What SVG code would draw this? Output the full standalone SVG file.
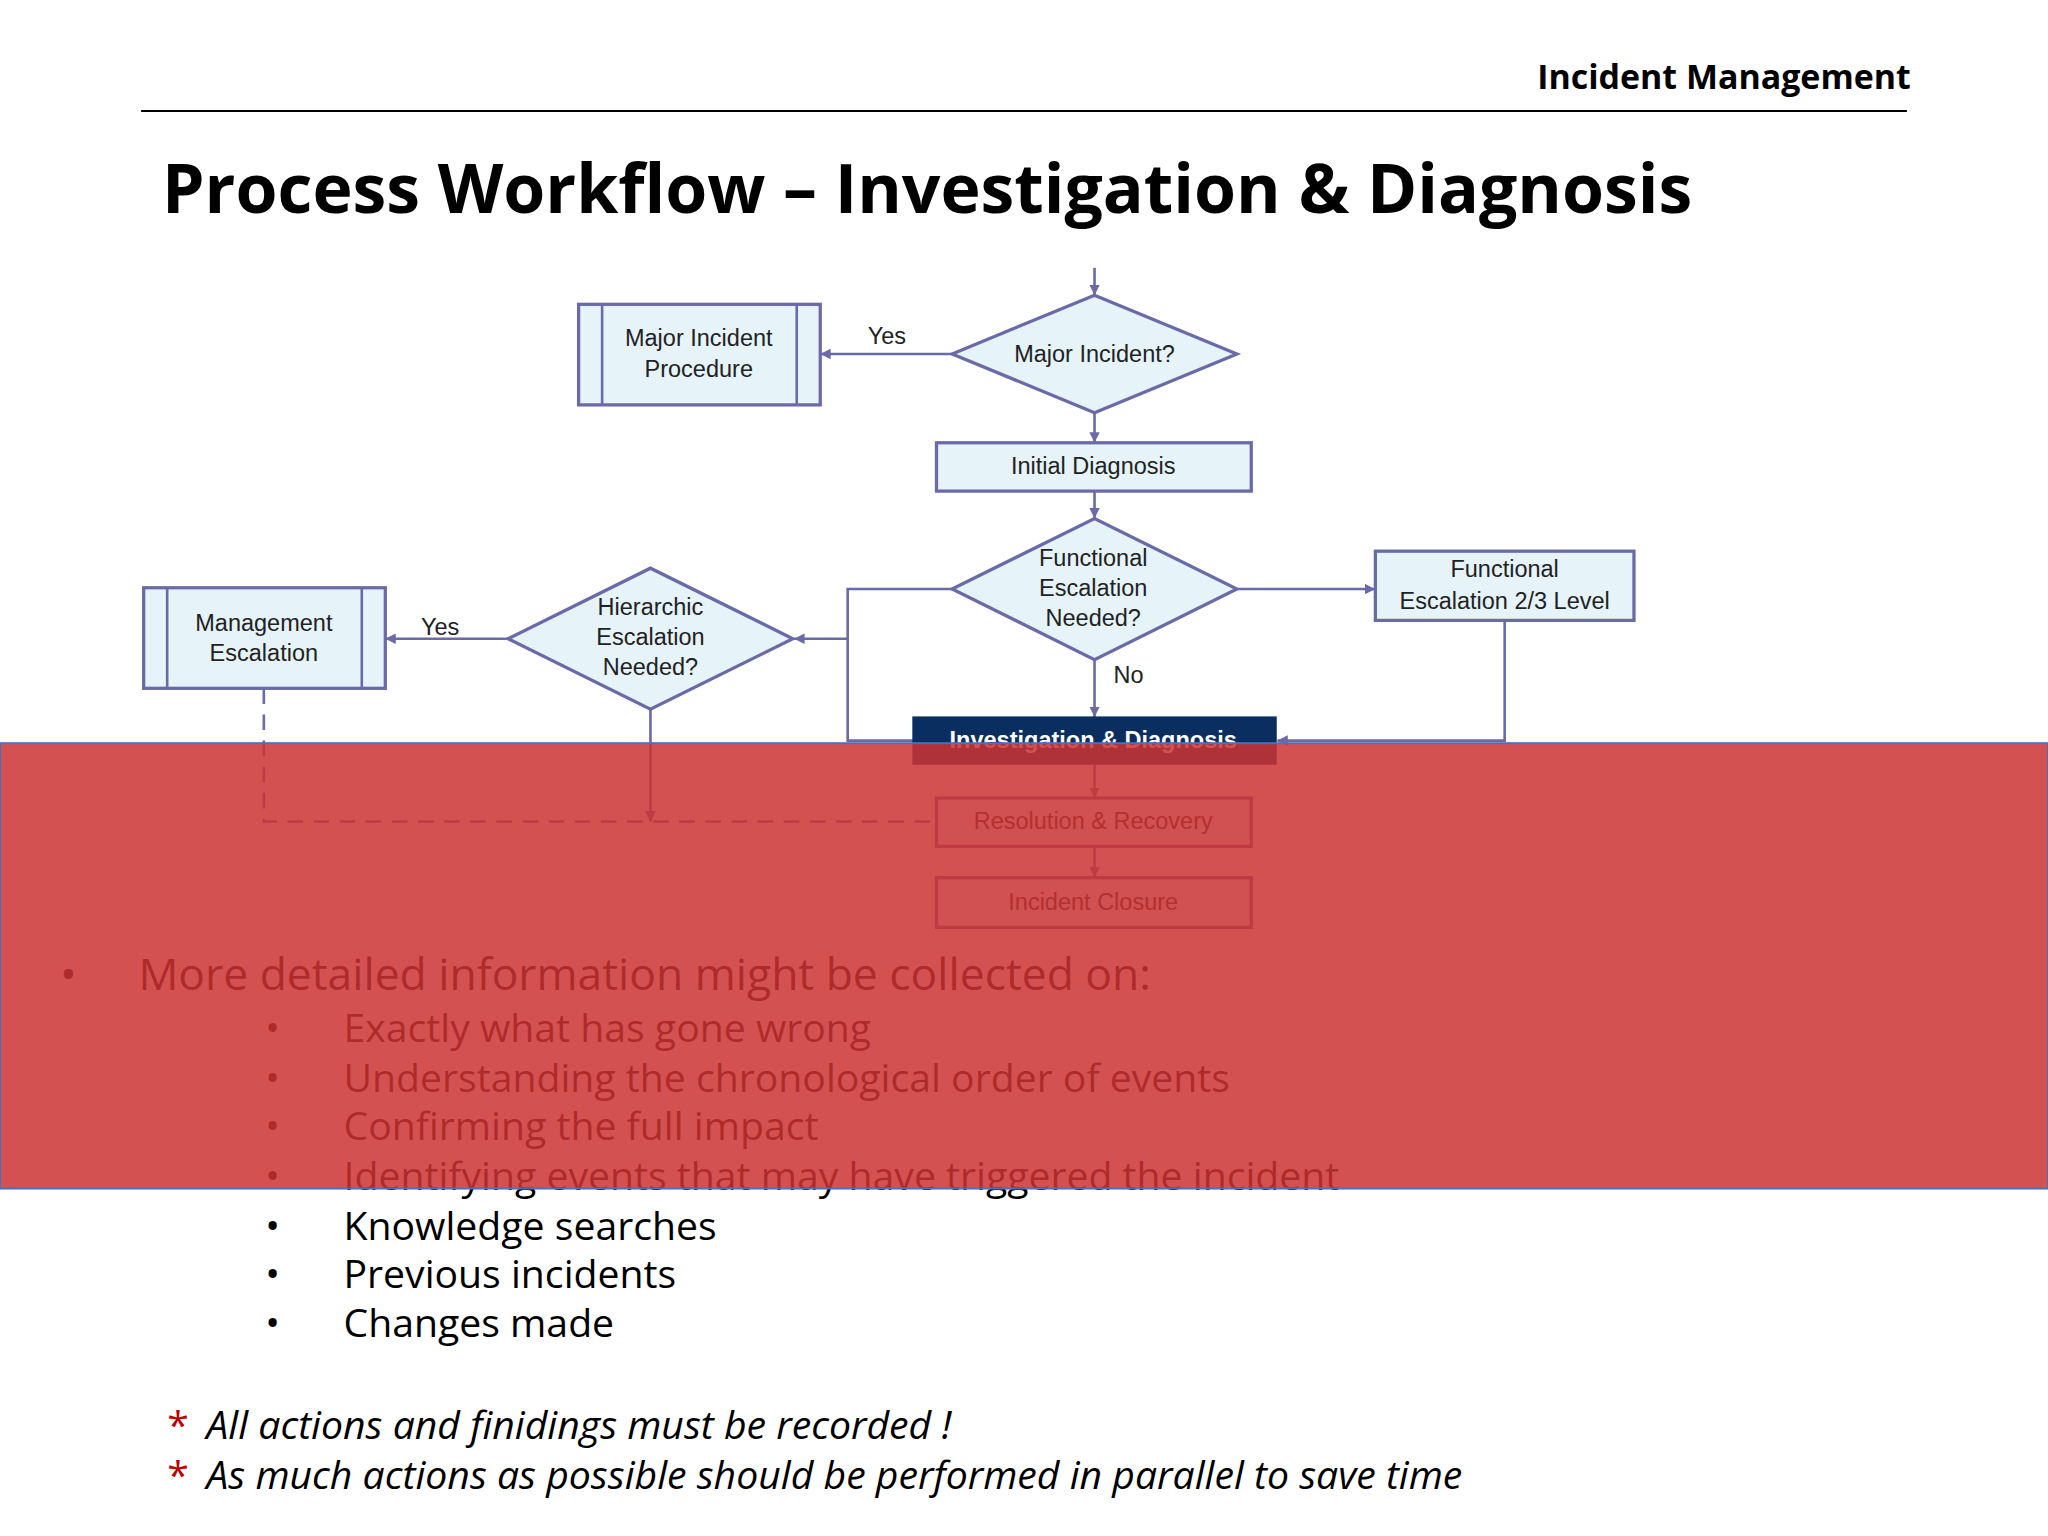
<svg xmlns="http://www.w3.org/2000/svg" width="2048" height="1536" viewBox="0 0 2048 1536">
<defs>
<marker id="ar" viewBox="0 0 10 10" refX="10" refY="5" markerWidth="8" markerHeight="8" markerUnits="userSpaceOnUse" orient="auto"><path d="M0,0L10,5L0,10z" fill="#6a6aa8"/></marker>
<style>
.n{fill:#e6f4fa;stroke:#6a6aa8;stroke-width:2.5}
.t{font-family:"Liberation Sans",Arial,sans-serif;font-size:18px;fill:#222;text-anchor:middle}
.c{fill:none;stroke:#6a6aa8;stroke-width:2}
.b{font-family:"Open Sans","Liberation Sans",sans-serif;fill:#000}
</style>
</defs>
<rect width="2048" height="1536" fill="#fff"/>
<g transform="scale(1.30612)">
<text x="1463" y="68" class="b" font-size="26" font-weight="bold" text-anchor="end">Incident Management</text>
<line x1="108" y1="85" x2="1460" y2="85" stroke="#000" stroke-width="1.5"/>
<text x="124" y="163" class="b" font-size="52" font-weight="bold">Process Workflow – Investigation &amp; Diagnosis</text>
<g id="connectors">
<path class="c" d="M838,205V226" marker-end="url(#ar)"/>
<path class="c" d="M729,271H628" marker-end="url(#ar)"/>
<path class="c" d="M838,316V339" marker-end="url(#ar)"/>
<path class="c" d="M838,376V397" marker-end="url(#ar)"/>
<path class="c" d="M947,451H1053" marker-end="url(#ar)"/>
<path class="c" d="M1152,475V567H978" marker-end="url(#ar)"/>
<path class="c" d="M729,451H649V567H699"/>
<path class="c" d="M649,489H608" marker-end="url(#ar)"/>
<path class="c" d="M389,489H295" marker-end="url(#ar)"/>
<path class="c" d="M838,505V549" marker-end="url(#ar)"/>
<path class="c" d="M498,543V629" marker-end="url(#ar)"/>
<path class="c" d="M202,527V629H717" stroke-dasharray="12,8"/>
<path class="c" d="M838,585V611" marker-end="url(#ar)"/>
<path class="c" d="M838,648V672" marker-end="url(#ar)"/>
<text x="679" y="263" class="t">Yes</text>
<text x="337" y="486" class="t">Yes</text>
<text x="864" y="523" class="t">No</text>
</g>
<g id="major"><path class="n" d="M729,271L838,226L947,271L838,316z"/><text x="838" y="277" class="t">Major Incident?</text></g>
<g id="mip"><rect class="n" x="443" y="233" width="185" height="77"/><path class="c" d="M461,233V310M610,233V310"/><text x="535" y="265" class="t">Major Incident</text><text x="535" y="289" class="t">Procedure</text></g>
<g id="initial"><rect class="n" x="717" y="339" width="241" height="37"/><text x="837" y="363" class="t">Initial Diagnosis</text></g>
<g id="func"><path class="n" d="M729,451L838,397L947,451L838,505z"/><text x="837" y="433" class="t">Functional</text><text x="837" y="456" class="t">Escalation</text><text x="837" y="479" class="t">Needed?</text></g>
<g id="fe"><rect class="n" x="1053" y="422" width="198" height="53"/><text x="1152" y="442" class="t">Functional</text><text x="1152" y="466" class="t">Escalation 2/3 Level</text></g>
<g id="hier"><path class="n" d="M389,489L498,435L607,489L498,543z"/><text x="498" y="471" class="t">Hierarchic</text><text x="498" y="494" class="t">Escalation</text><text x="498" y="517" class="t">Needed?</text></g>
<g id="mgmt"><rect class="n" x="110" y="450" width="185" height="77"/><path class="c" d="M128,450V527M277,450V527"/><text x="202" y="483" class="t">Management</text><text x="202" y="506" class="t">Escalation</text></g>
<g id="inv"><rect x="699" y="549" width="278" height="36" fill="#0b2e60" stroke="#0b2e60"/><text x="837" y="573" class="t" fill="#fff" style="fill:#fff" font-weight="bold">Investigation &amp; Diagnosis</text></g>
<g id="res"><rect class="n" x="717" y="611" width="241" height="37"/><text x="837" y="635" class="t">Resolution &amp; Recovery</text></g>
<g id="close"><rect class="n" x="717" y="672" width="241" height="38"/><text x="837" y="697" class="t">Incident Closure</text></g>
<g class="b">
<text x="46" y="758" font-size="34">•</text>
<text x="106" y="758" font-size="34">More detailed information might be collected on:</text>
<g font-size="30">
<text x="203" y="798">•</text><text x="263" y="798">Exactly what has gone wrong</text>
<text x="203" y="836">•</text><text x="263" y="836">Understanding the chronological order of events</text>
<text x="203" y="873">•</text><text x="263" y="873">Confirming the full impact</text>
<text x="203" y="911">•</text><text x="263" y="911">Identifying events that may have triggered the incident</text>
<text x="203" y="949">•</text><text x="263" y="949">Knowledge searches</text>
<text x="203" y="986">•</text><text x="263" y="986">Previous incidents</text>
<text x="203" y="1024">•</text><text x="263" y="1024">Changes made</text>
<text x="128" y="1102" fill="#c00000">*</text><text x="158" y="1102" font-style="italic">All actions and finidings must be recorded !</text>
<text x="128" y="1140" fill="#c00000">*</text><text x="158" y="1140" font-style="italic">As much actions as possible should be performed in parallel to save time</text>
</g>
</g>
<rect x="0" y="569" width="1568" height="341" fill="#cd3232" fill-opacity="0.85" stroke="#4472c4" stroke-width="1.5"/>
</g>
</svg>
